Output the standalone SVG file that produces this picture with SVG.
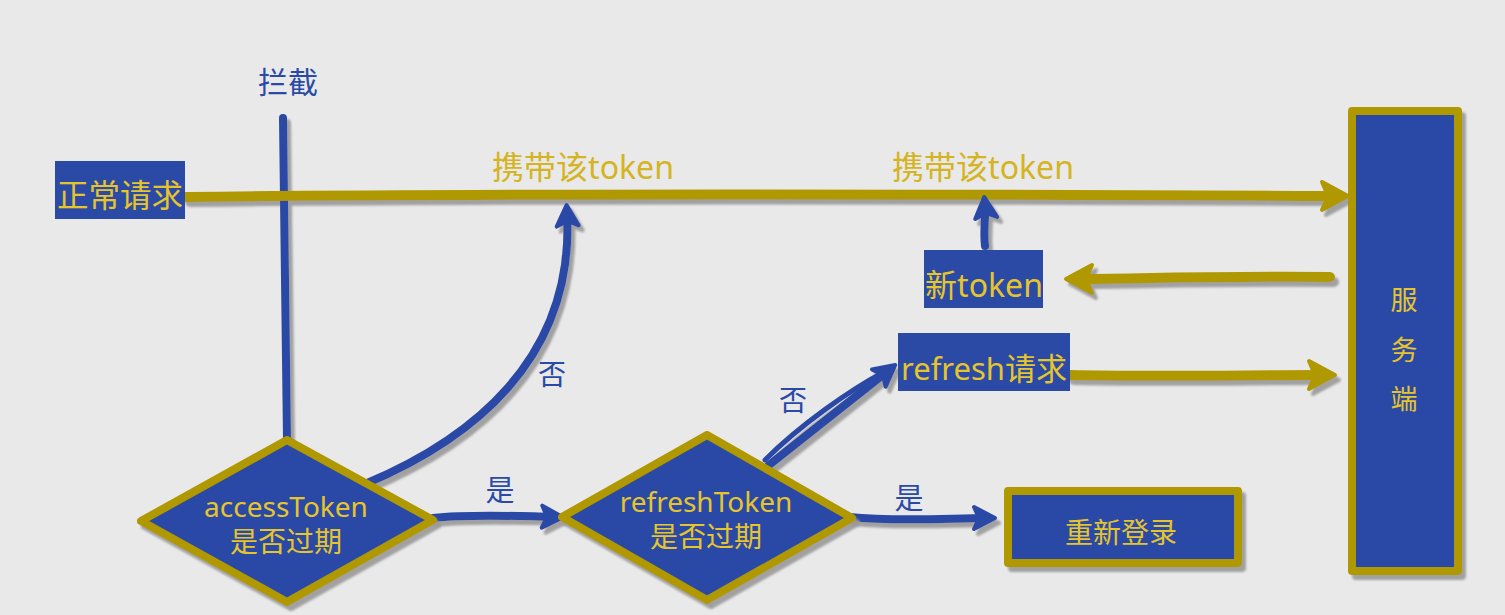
<svg xmlns="http://www.w3.org/2000/svg" width="1505" height="615" viewBox="0 0 1505 615">
<style>
.bg{fill:#e9e9e9}
.box{fill:#2a4aa6}
.gbox{fill:#2a4aa6;stroke:#b09800;stroke-width:8;stroke-linejoin:round}
.t{font-family:"Noto Sans","Noto Sans CJK SC",sans-serif;text-anchor:middle}
.ty{fill:#e6c52c}
.tg{fill:#d4b423}
.tb{fill:#2a4aa6}
.lg{fill:none;stroke:#b09800;stroke-width:10;stroke-linecap:round}
.lb{fill:none;stroke:#2a4aa6;stroke-width:8;stroke-linecap:round}
</style>
<defs>
<filter id="sh" filterUnits="userSpaceOnUse" x="0" y="0" width="1505" height="615">
<feDropShadow dx="4" dy="5" stdDeviation="1.2" flood-color="#9a9a9a" flood-opacity="0.9"/>
</filter>
<marker id="ag" markerUnits="userSpaceOnUse" markerWidth="34" markerHeight="36" refX="19" refY="17" orient="auto">
<path d="M3,3 L29,17 L3,31 L9,17 Z" fill="#b09800" stroke="#b09800" stroke-width="4" stroke-linejoin="round"/>
</marker>
<marker id="ab" markerUnits="userSpaceOnUse" markerWidth="28" markerHeight="30" refX="16" refY="14" orient="auto">
<path d="M3,3 L24,14 L3,25 L8,14 Z" fill="#2a4aa6" stroke="#2a4aa6" stroke-width="4" stroke-linejoin="round"/>
</marker>
</defs>
<rect class="bg" x="0" y="0" width="1505" height="615"/>

<g id="connectors" filter="url(#sh)">
<path class="lb" d="M283,118 C284,250 286,350 287,440"/>
<path class="lg" marker-end="url(#ag)" d="M186,197 C500,193 900,194 1338,196"/>
<path class="lg" marker-end="url(#ag)" d="M1330,277 C1200,276 1130,279 1076,279"/>
<path class="lg" marker-end="url(#ag)" d="M1070,375 C1150,377 1250,375 1325,375"/>
<path class="lb" marker-end="url(#ab)" d="M433,518 C470,514 520,516 555,517"/>
<path class="lb" marker-end="url(#ab)" d="M365,484 C470,440 575,360 567,213"/>
<path class="lb" marker-end="url(#ab)" d="M849,517 C900,522 950,518 987,518"/>
<path class="lb" marker-end="url(#ab)" d="M769,465 L889,370"/>
<path class="lb" style="stroke-width:5" d="M765,460 C800,425 850,390 884,372"/>
<path class="lb" marker-end="url(#ab)" d="M985,246 C983,230 986,216 985,205"/>
</g>

<g id="label-lanjie"><text class="t tb" x="288" y="93" font-size="30">拦截</text></g>
<g id="label-carry1"><text class="t tg" x="583" y="179" font-size="32">携带该token</text></g>
<g id="label-carry2"><text class="t tg" x="983" y="179" font-size="32">携带该token</text></g>
<g id="label-no1"><text class="t tb" x="552" y="385" font-size="28">否</text></g>
<g id="label-yes1"><text class="t tb" x="500" y="501" font-size="29">是</text></g>
<g id="label-no2"><text class="t tb" x="793" y="411" font-size="28">否</text></g>
<g id="label-yes2"><text class="t tb" x="909" y="509" font-size="29">是</text></g>

<g id="normal-request">
<rect class="box" x="55" y="161" width="130" height="58"/>
<text class="t ty" x="120" y="207" font-size="31.5">正常请求</text>
</g>

<g id="access-decision">
<polygon class="gbox" filter="url(#sh)" points="141,521 287,440 433,520 287,602"/>
<text class="t ty" font-size="28"><tspan x="286" y="517">accessToken</tspan><tspan x="286" dy="35">是否过期</tspan></text>
</g>

<g id="refresh-decision">
<polygon class="gbox" filter="url(#sh)" points="562,517 707,435 852,518 707,600"/>
<text class="t ty" font-size="28"><tspan x="706" y="512">refreshToken</tspan><tspan x="706" dy="35">是否过期</tspan></text>
</g>

<g id="new-token">
<rect class="box" x="924" y="250" width="119" height="58"/>
<text class="t ty" x="984" y="297" font-size="32">新token</text>
</g>

<g id="refresh-request">
<rect class="box" x="898" y="333" width="172" height="58"/>
<text class="t ty" x="984" y="380" font-size="31">refresh请求</text>
</g>

<g id="relogin">
<rect class="gbox" filter="url(#sh)" x="1008" y="491" width="230" height="72"/>
<text class="t ty" x="1121" y="543" font-size="28">重新登录</text>
</g>

<g id="server">
<rect class="gbox" filter="url(#sh)" x="1352" y="111" width="106" height="460"/>
<text class="t ty" x="1404" y="310" font-size="27">服</text>
<text class="t ty" x="1404" y="360" font-size="27">务</text>
<text class="t ty" x="1404" y="409" font-size="27">端</text>
</g>
</svg>
